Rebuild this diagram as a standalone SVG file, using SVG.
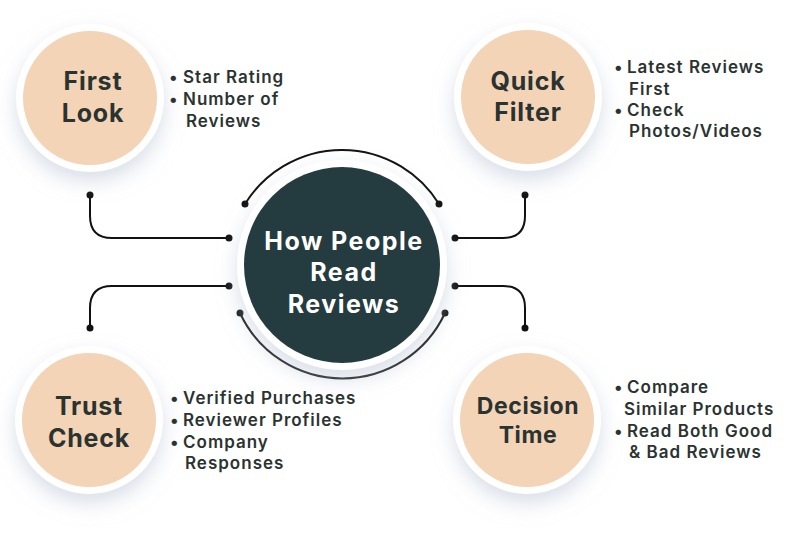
<svg xmlns="http://www.w3.org/2000/svg" width="810" height="540" viewBox="0 0 810 540">
<defs>
<filter id="sh" x="-40%" y="-40%" width="180%" height="190%">
<feDropShadow dx="0" dy="9" stdDeviation="10" flood-color="#b9c4d4" flood-opacity="0.55"/>
</filter>
</defs>
<style>
.ring{fill:#ffffff;filter:url(#sh)}
.peach{fill:#f3d4b6}
.dark{fill:#243b40}
.lbl{font-family:Inter,"Open Sans",sans-serif;font-weight:700;font-size:25px;letter-spacing:0.8px;fill:#2b3331;text-anchor:middle}
.ctr{font-family:Inter,"Open Sans",sans-serif;font-weight:700;font-size:25px;letter-spacing:1.5px;fill:#ffffff;text-anchor:middle}
.bl{font-family:Inter,"Open Sans",sans-serif;font-weight:600;font-size:17px;letter-spacing:1px;fill:#2b3331}
.ln{fill:none;stroke:#111111;stroke-width:2}
.dot{fill:#111111}
</style>
<rect width="810" height="540" fill="#ffffff"/>
<g id="connectors">
<path class="ln" d="M229,238 H112 Q90,238 90,216 V195"/>
<path class="ln" d="M229,286 H112 Q90,286 90,308 V328"/>
<path class="ln" d="M455,238 H503 Q525,238 525,216 V195"/>
<path class="ln" d="M455,286 H503 Q525,286 525,308 V328"/>
<path class="ln" d="M245,204 A114,114 0 0 1 439,204"/>
<path class="ln" d="M240,313 A113,113 0 0 0 445,313"/>
<circle class="dot" cx="229" cy="238" r="3.5"/>
<circle class="dot" cx="229" cy="286" r="3.5"/>
<circle class="dot" cx="455" cy="238" r="3.5"/>
<circle class="dot" cx="455" cy="286" r="3.5"/>
<circle class="dot" cx="90" cy="195" r="3.5"/>
<circle class="dot" cx="90" cy="328" r="3.5"/>
<circle class="dot" cx="525" cy="195" r="3.5"/>
<circle class="dot" cx="525" cy="328" r="3.5"/>
<circle class="dot" cx="245" cy="204" r="3.5"/>
<circle class="dot" cx="439" cy="204" r="3.5"/>
<circle class="dot" cx="240" cy="313" r="3.5"/>
<circle class="dot" cx="445" cy="313" r="3.5"/>
</g>
<g id="center">
<circle class="ring" cx="342" cy="265" r="105"/>
<circle class="dark" cx="342" cy="265" r="98"/>
<text class="ctr" x="344" y="250">How People</text>
<text class="ctr" x="344" y="281">Read</text>
<text class="ctr" x="344" y="313">Reviews</text>
</g>
<g id="first-look">
<circle class="ring" cx="90" cy="98" r="74"/>
<circle class="peach" cx="90" cy="98" r="67"/>
<text class="lbl" x="93" y="90">First</text>
<text class="lbl" x="93" y="122">Look</text>
<text class="bl" x="169" y="83">•<tspan x="183">Star Rating</tspan></text>
<text class="bl" x="169" y="105">•<tspan x="183">Number of</tspan></text>
<text class="bl" x="186" y="127">Reviews</text>
</g>
<g id="quick-filter">
<circle class="ring" cx="528" cy="97" r="74"/>
<circle class="peach" cx="528" cy="97" r="67"/>
<text class="lbl" x="528" y="90">Quick</text>
<text class="lbl" x="528" y="121">Filter</text>
<text class="bl" x="614" y="73">•<tspan x="627">Latest Reviews</tspan></text>
<text class="bl" x="629" y="95">First</text>
<text class="bl" x="614" y="116">•<tspan x="627">Check</tspan></text>
<text class="bl" x="629" y="137">Photos/Videos</text>
</g>
<g id="trust-check">
<circle class="ring" cx="89" cy="420" r="74"/>
<circle class="peach" cx="89" cy="420" r="67"/>
<text class="lbl" x="89" y="415">Trust</text>
<text class="lbl" x="89" y="447">Check</text>
<text class="bl" x="170" y="404">•<tspan x="183">Verified Purchases</tspan></text>
<text class="bl" x="170" y="426">•<tspan x="183">Reviewer Profiles</tspan></text>
<text class="bl" x="170" y="448">•<tspan x="183">Company</tspan></text>
<text class="bl" x="185" y="469">Responses</text>
</g>
<g id="decision-time">
<circle class="ring" cx="527" cy="420" r="74"/>
<circle class="peach" cx="527" cy="420" r="67"/>
<text class="lbl" x="528" y="414" style="font-size:23px;letter-spacing:0.6px">Decision</text>
<text class="lbl" x="528" y="443" style="font-size:23px;letter-spacing:0.6px">Time</text>
<text class="bl" x="614" y="393">•<tspan x="627">Compare</tspan></text>
<text class="bl" x="624" y="415">Similar Products</text>
<text class="bl" x="614" y="437">•<tspan x="627">Read Both Good</tspan></text>
<text class="bl" x="629" y="458">&amp; Bad Reviews</text>
</g>
</svg>
